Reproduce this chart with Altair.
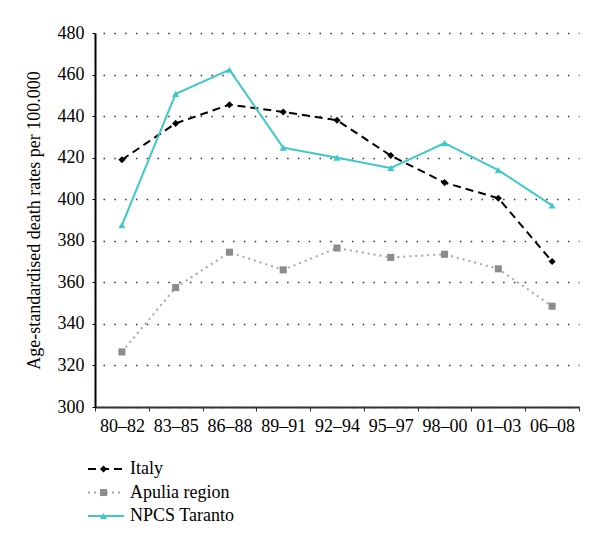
import altair as alt
import pandas as pd

periods = ["80–82", "83–85", "86–88", "89–91", "92–94", "95–97", "98–00", "01–03", "06–08"]
series_names = ["Italy", "Apulia region", "NPCS Taranto"]
italy = [419, 436.5, 445.5, 442, 438, 421, 408, 400.5, 370]
apulia = [326.5, 357.5, 374.5, 366, 376.5, 372, 373.5, 366.5, 348.5]
taranto = [387.5, 450.7, 462.3, 424.8, 420, 415, 427, 414, 397]
y_ticks = [300, 320, 340, 360, 380, 400, 420, 440, 460, 480]

line_colors = ["#000000", "#a6a6a6", "#3ec8c8"]
marker_colors = ["#000000", "#8c8c8c", "#3ec8c8"]
dashes = [[8, 5], [2, 4], [1, 0]]
widths = [2, 2, 1.5]
shapes = ["diamond", "square", "triangle-up"]
marker_keys = ["m " + s for s in series_names]

rows = []
for name, mk, vals in zip(series_names, marker_keys, [italy, apulia, taranto]):
    for p, v in zip(periods, vals):
        rows.append({"period": p, "series": name, "marker": mk, "value": v})
df = pd.DataFrame(rows)

FONT = "Liberation Serif"
FS = 18

x_enc = alt.X(
    "period:N", sort=periods, bandPosition=0.5,
    scale=alt.Scale(type="band", paddingInner=0, paddingOuter=0),
    axis=alt.Axis(title=None, labelAngle=0, tickBand="extent", tickSize=4,
                  tickColor="#333333", domainColor="#333333", domainWidth=2,
                  labelFont=FONT, labelFontSize=FS, labelColor="#000000",
                  labelPadding=6, grid=False),
)
y_enc = alt.Y(
    "value:Q",
    scale=alt.Scale(domain=[300, 480], nice=False, zero=False),
    axis=alt.Axis(title="Age-standardised death rates per 100.000", values=y_ticks,
                  grid=True, gridDash=[1.5, 9.3], gridDashOffset=-8, gridColor="#333333",
                  gridWidth=1.3,
                  tickSize=3, tickColor="#000000", domainColor="#000000", domainWidth=2,
                  labelFont=FONT, labelFontSize=FS, labelColor="#000000", labelPadding=8,
                  titleFont=FONT, titleFontSize=FS, titleFontWeight="normal",
                  titleColor="#000000", titlePadding=14),
)

lines = alt.Chart(df).mark_line().encode(
    x=x_enc, y=y_enc,
    color=alt.Color("series:N", scale=alt.Scale(domain=series_names, range=line_colors),
                    legend=alt.Legend(title=None, orient="none", legendX=2, legendY=427,
                                      symbolType="M-3,0L3,0", symbolSize=144,
                                      symbolStrokeWidth=2,
                                      labelFont=FONT, labelFontSize=FS, labelColor="#000000",
                                      labelOffset=15, rowPadding=5.5, padding=0)),
    strokeDash=alt.StrokeDash("series:N", scale=alt.Scale(domain=series_names, range=dashes)),
    strokeWidth=alt.StrokeWidth("series:N", scale=alt.Scale(domain=series_names, range=widths),
                                legend=None),
)

points = alt.Chart(df).mark_point(filled=True, size=50, opacity=1).encode(
    x=x_enc, y=y_enc,
    shape=alt.Shape("marker:N", scale=alt.Scale(domain=marker_keys, range=shapes),
                    legend=alt.Legend(title=None, orient="none", legendX=-0.5, legendY=427,
                                      symbolSize=50, labelOpacity=0, labelExpr="' '",
                                      labelFont=FONT, labelFontSize=FS,
                                      rowPadding=5.5, padding=0)),
    fill=alt.Fill("marker:N", scale=alt.Scale(domain=marker_keys, range=marker_colors)),
)

chart = alt.layer(lines, points).properties(
    width=484, height=374,
    autosize=alt.AutoSizeParams(type="none"),
    padding={"left": 87, "top": 25, "right": 13, "bottom": 134},
).configure_view(stroke=None)

chart.save("out.html", embed_options={"renderer": "svg", "actions": False})
